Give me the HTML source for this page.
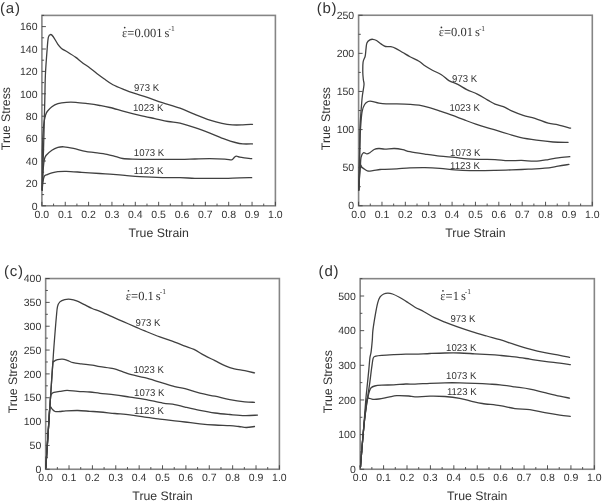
<!DOCTYPE html>
<html><head><meta charset="utf-8"><style>
html,body{margin:0;padding:0;background:#fff;}
svg{display:block;}
svg{filter:grayscale(1);}
text{font-family:"Liberation Sans",sans-serif;fill:#333333;text-rendering:geometricPrecision;}
.s{font-family:"Liberation Serif",serif;}
</style></head><body>
<svg width="602" height="502" viewBox="0 0 602 502">
<rect width="602" height="502" fill="#fff"/>
<g>

<g id="pa"><rect x="41.9" y="15.4" width="233.50" height="190.40" fill="none" stroke="#858585" stroke-width="1.6"/>
<path d="M41.90,205.8 v-4 M53.57,205.8 v-2.2 M65.25,205.8 v-4 M76.92,205.8 v-2.2 M88.60,205.8 v-4 M100.27,205.8 v-2.2 M111.95,205.8 v-4 M123.62,205.8 v-2.2 M135.30,205.8 v-4 M146.97,205.8 v-2.2 M158.65,205.8 v-4 M170.32,205.8 v-2.2 M182.00,205.8 v-4 M193.67,205.8 v-2.2 M205.35,205.8 v-4 M217.02,205.8 v-2.2 M228.70,205.8 v-4 M240.37,205.8 v-2.2 M252.05,205.8 v-4 M263.72,205.8 v-2.2 M275.40,205.8 v-4 M41.9,205.80 h4 M41.9,194.60 h2.2 M41.9,183.40 h4 M41.9,172.20 h2.2 M41.9,161.00 h4 M41.9,149.80 h2.2 M41.9,138.60 h4 M41.9,127.40 h2.2 M41.9,116.20 h4 M41.9,105.00 h2.2 M41.9,93.80 h4 M41.9,82.60 h2.2 M41.9,71.40 h4 M41.9,60.20 h2.2 M41.9,49.00 h4 M41.9,37.80 h2.2 M41.9,26.60 h4 M41.9,15.40 h2.2" stroke="#404040" stroke-width="0.9" fill="none"/>
<text x="41.90" y="218.00" font-size="10.5" text-anchor="middle">0.0</text>
<text x="65.25" y="218.00" font-size="10.5" text-anchor="middle">0.1</text>
<text x="88.60" y="218.00" font-size="10.5" text-anchor="middle">0.2</text>
<text x="111.95" y="218.00" font-size="10.5" text-anchor="middle">0.3</text>
<text x="135.30" y="218.00" font-size="10.5" text-anchor="middle">0.4</text>
<text x="158.65" y="218.00" font-size="10.5" text-anchor="middle">0.5</text>
<text x="182.00" y="218.00" font-size="10.5" text-anchor="middle">0.6</text>
<text x="205.35" y="218.00" font-size="10.5" text-anchor="middle">0.7</text>
<text x="228.70" y="218.00" font-size="10.5" text-anchor="middle">0.8</text>
<text x="252.05" y="218.00" font-size="10.5" text-anchor="middle">0.9</text>
<text x="275.40" y="218.00" font-size="10.5" text-anchor="middle">1.0</text>
<text x="37.50" y="209.50" font-size="10.5" text-anchor="end">0</text>
<text x="37.50" y="187.10" font-size="10.5" text-anchor="end">20</text>
<text x="37.50" y="164.70" font-size="10.5" text-anchor="end">40</text>
<text x="37.50" y="142.30" font-size="10.5" text-anchor="end">60</text>
<text x="37.50" y="119.90" font-size="10.5" text-anchor="end">80</text>
<text x="37.50" y="97.50" font-size="10.5" text-anchor="end">100</text>
<text x="37.50" y="75.10" font-size="10.5" text-anchor="end">120</text>
<text x="37.50" y="52.70" font-size="10.5" text-anchor="end">140</text>
<text x="37.50" y="30.30" font-size="10.5" text-anchor="end">160</text>
<text x="158.65" y="236.80" font-size="12.3" text-anchor="middle">True Strain</text>
<text transform="translate(10.4,118.6) rotate(-90)" font-size="12.3" text-anchor="middle">True Stress</text>
<text x="0" y="12.7" font-size="15" letter-spacing="0.8">(a)</text>
<path d="M42.20,190.00 C42.42,183.33 43.07,165.00 43.50,150.00 C43.93,135.00 44.48,112.55 44.80,100.00 C45.12,87.45 45.00,83.28 45.40,74.70 C45.80,66.12 46.70,54.77 47.20,48.50 C47.70,42.23 47.81,39.43 48.40,37.10 C48.99,34.77 49.97,34.60 50.75,34.50 C51.53,34.40 51.91,34.87 53.10,36.50 C54.29,38.13 56.50,42.30 57.90,44.30 C59.30,46.30 59.90,47.22 61.50,48.50 C63.10,49.78 65.12,50.52 67.50,52.00 C69.88,53.48 73.42,55.70 75.80,57.40 C78.18,59.10 79.40,60.40 81.80,62.20 C84.20,64.00 87.42,66.12 90.20,68.20 C92.98,70.28 96.20,72.95 98.50,74.70 C100.80,76.45 101.60,77.03 104.00,78.70 C106.40,80.37 109.42,82.83 112.90,84.70 C116.38,86.57 121.40,88.48 124.90,89.90 C128.40,91.32 130.17,91.95 133.90,93.20 C137.63,94.45 142.57,95.83 147.30,97.40 C152.03,98.97 156.85,100.80 162.30,102.60 C167.75,104.40 174.57,106.23 180.00,108.20 C185.43,110.17 189.92,112.42 194.90,114.40 C199.88,116.38 205.40,118.60 209.90,120.10 C214.40,121.60 218.17,122.60 221.90,123.40 C225.63,124.20 228.82,124.65 232.30,124.90 C235.78,125.15 239.43,125.00 242.80,124.90 C246.17,124.80 250.88,124.40 252.50,124.30" fill="none" stroke="#404040" stroke-width="1.3" stroke-linejoin="round" stroke-linecap="round"/>
<path d="M42.20,190.00 C42.23,183.28 42.17,160.40 42.40,149.70 C42.63,139.00 43.10,131.47 43.60,125.80 C44.10,120.13 44.80,118.08 45.40,115.70 C46.00,113.32 46.12,113.00 47.20,111.50 C48.28,110.00 50.12,108.00 51.90,106.70 C53.68,105.40 55.50,104.43 57.90,103.70 C60.30,102.97 63.32,102.53 66.30,102.30 C69.28,102.07 72.22,102.07 75.80,102.30 C79.38,102.53 83.82,103.17 87.80,103.70 C91.78,104.23 96.02,104.87 99.70,105.50 C103.38,106.13 105.70,106.48 109.90,107.50 C114.10,108.52 119.92,110.30 124.90,111.60 C129.88,112.90 134.82,114.13 139.80,115.30 C144.78,116.47 150.07,117.57 154.80,118.60 C159.53,119.63 164.00,120.75 168.20,121.50 C172.40,122.25 175.55,122.08 180.00,123.10 C184.45,124.12 189.92,125.93 194.90,127.60 C199.88,129.27 204.92,131.18 209.90,133.10 C214.88,135.02 220.57,137.53 224.80,139.10 C229.03,140.67 232.30,141.70 235.30,142.50 C238.30,143.30 239.93,143.67 242.80,143.90 C245.67,144.13 250.88,143.90 252.50,143.90" fill="none" stroke="#404040" stroke-width="1.3" stroke-linejoin="round" stroke-linecap="round"/>
<path d="M42.20,190.00 C42.33,187.00 42.67,176.95 43.00,172.00 C43.33,167.05 43.70,163.05 44.20,160.30 C44.70,157.55 44.72,157.18 46.00,155.50 C47.28,153.82 49.92,151.55 51.90,150.20 C53.88,148.85 55.90,147.97 57.90,147.40 C59.90,146.83 61.30,146.63 63.90,146.80 C66.50,146.97 69.92,147.63 73.50,148.40 C77.08,149.17 81.82,150.70 85.40,151.40 C88.98,152.10 91.40,152.10 95.00,152.60 C98.60,153.10 103.52,153.72 107.00,154.40 C110.48,155.08 113.28,156.02 115.90,156.70 C118.52,157.38 119.95,158.10 122.70,158.50 C125.45,158.90 127.05,158.95 132.40,159.10 C137.75,159.25 146.87,159.35 154.80,159.40 C162.73,159.45 173.32,159.47 180.00,159.40 C186.68,159.33 189.92,159.12 194.90,159.00 C199.88,158.88 204.92,158.68 209.90,158.70 C214.88,158.72 221.18,158.90 224.80,159.10 C228.42,159.30 230.10,160.10 231.60,159.90 C233.10,159.70 233.05,158.53 233.80,157.90 C234.55,157.27 235.10,156.22 236.10,156.10 C237.10,155.98 238.43,156.90 239.80,157.20 C241.17,157.50 242.32,157.65 244.30,157.90 C246.28,158.15 250.47,158.57 251.70,158.70" fill="none" stroke="#404040" stroke-width="1.3" stroke-linejoin="round" stroke-linecap="round"/>
<path d="M42.20,190.00 C42.30,188.83 42.47,185.27 42.80,183.00 C43.13,180.73 43.47,177.80 44.20,176.40 C44.93,175.00 45.92,175.18 47.20,174.60 C48.48,174.02 50.12,173.38 51.90,172.90 C53.68,172.42 55.50,171.95 57.90,171.70 C60.30,171.45 62.32,171.30 66.30,171.40 C70.28,171.50 76.23,171.95 81.80,172.30 C87.37,172.65 95.02,173.18 99.70,173.50 C104.38,173.82 105.70,173.88 109.90,174.20 C114.10,174.52 119.92,175.00 124.90,175.40 C129.88,175.80 133.57,176.23 139.80,176.60 C146.03,176.97 155.60,177.42 162.30,177.60 C169.00,177.78 174.57,177.58 180.00,177.70 C185.43,177.82 189.92,178.18 194.90,178.30 C199.88,178.42 204.92,178.40 209.90,178.40 C214.88,178.40 219.82,178.40 224.80,178.30 C229.78,178.20 235.32,177.90 239.80,177.80 C244.28,177.70 249.72,177.72 251.70,177.70" fill="none" stroke="#404040" stroke-width="1.3" stroke-linejoin="round" stroke-linecap="round"/>
<text class="s" x="122.10" y="36.60" font-size="12.5">ε=0.001<tspan dx="-1.1"> s</tspan><tspan font-size="7.5" dx="-1.0" dy="-5.6">-1</tspan></text>
<circle cx="124.70" cy="27.60" r="0.85" fill="#333333"/>
<text transform="translate(134.0,90.8) scale(0.96,1)" font-size="10">973 K</text>
<text transform="translate(133.0,111.1) scale(0.96,1)" font-size="10">1023 K</text>
<text transform="translate(133.8,156.0) scale(0.96,1)" font-size="10">1073 K</text>
<text transform="translate(133.8,173.9) scale(0.96,1)" font-size="10">1123 K</text></g>
<g id="pb"><rect x="358.6" y="15.25" width="233.70" height="190.50" fill="none" stroke="#858585" stroke-width="1.6"/>
<path d="M358.60,205.75 v-4 M370.29,205.75 v-2.2 M381.97,205.75 v-4 M393.66,205.75 v-2.2 M405.34,205.75 v-4 M417.02,205.75 v-2.2 M428.71,205.75 v-4 M440.39,205.75 v-2.2 M452.08,205.75 v-4 M463.76,205.75 v-2.2 M475.45,205.75 v-4 M487.13,205.75 v-2.2 M498.82,205.75 v-4 M510.50,205.75 v-2.2 M522.19,205.75 v-4 M533.88,205.75 v-2.2 M545.56,205.75 v-4 M557.24,205.75 v-2.2 M568.93,205.75 v-4 M580.62,205.75 v-2.2 M592.30,205.75 v-4 M358.6,205.75 h4 M358.6,186.70 h2.2 M358.6,167.65 h4 M358.6,148.60 h2.2 M358.6,129.55 h4 M358.6,110.50 h2.2 M358.6,91.45 h4 M358.6,72.40 h2.2 M358.6,53.35 h4 M358.6,34.30 h2.2 M358.6,15.25 h4" stroke="#404040" stroke-width="0.9" fill="none"/>
<text x="358.60" y="217.95" font-size="10.5" text-anchor="middle">0.0</text>
<text x="381.97" y="217.95" font-size="10.5" text-anchor="middle">0.1</text>
<text x="405.34" y="217.95" font-size="10.5" text-anchor="middle">0.2</text>
<text x="428.71" y="217.95" font-size="10.5" text-anchor="middle">0.3</text>
<text x="452.08" y="217.95" font-size="10.5" text-anchor="middle">0.4</text>
<text x="475.45" y="217.95" font-size="10.5" text-anchor="middle">0.5</text>
<text x="498.82" y="217.95" font-size="10.5" text-anchor="middle">0.6</text>
<text x="522.19" y="217.95" font-size="10.5" text-anchor="middle">0.7</text>
<text x="545.56" y="217.95" font-size="10.5" text-anchor="middle">0.8</text>
<text x="568.93" y="217.95" font-size="10.5" text-anchor="middle">0.9</text>
<text x="592.30" y="217.95" font-size="10.5" text-anchor="middle">1.0</text>
<text x="354.20" y="209.45" font-size="10.5" text-anchor="end">0</text>
<text x="354.20" y="171.35" font-size="10.5" text-anchor="end">50</text>
<text x="354.20" y="133.25" font-size="10.5" text-anchor="end">100</text>
<text x="354.20" y="95.15" font-size="10.5" text-anchor="end">150</text>
<text x="354.20" y="57.05" font-size="10.5" text-anchor="end">200</text>
<text x="354.20" y="18.95" font-size="10.5" text-anchor="end">250</text>
<text x="475.45" y="236.75" font-size="12.3" text-anchor="middle">True Strain</text>
<text transform="translate(329.5,118.6) rotate(-90)" font-size="12.3" text-anchor="middle">True Stress</text>
<text x="316.7" y="12.7" font-size="15" letter-spacing="0.8">(b)</text>
<path d="M358.80,190.00 C358.92,185.00 359.33,168.38 359.50,160.00 C359.67,151.62 359.72,145.07 359.80,139.70 C359.88,134.33 359.85,131.78 360.00,127.80 C360.15,123.82 360.43,119.78 360.70,115.80 C360.97,111.82 361.32,107.28 361.60,103.90 C361.88,100.52 362.00,98.68 362.40,95.50 C362.80,92.32 363.83,87.38 364.00,84.80 C364.17,82.22 363.60,82.00 363.40,80.00 C363.20,78.00 362.85,75.80 362.80,72.80 C362.75,69.80 362.70,64.78 363.10,62.00 C363.50,59.22 364.72,58.28 365.20,56.10 C365.68,53.92 365.72,51.10 366.00,48.90 C366.28,46.70 366.25,44.40 366.90,42.90 C367.55,41.40 368.90,40.50 369.90,39.90 C370.90,39.30 371.80,39.20 372.90,39.30 C374.00,39.40 375.10,39.70 376.50,40.50 C377.90,41.30 379.80,43.10 381.30,44.10 C382.80,45.10 383.92,46.07 385.50,46.50 C387.08,46.93 389.12,46.40 390.80,46.70 C392.48,47.00 393.60,47.33 395.60,48.30 C397.60,49.27 400.40,51.10 402.80,52.50 C405.20,53.90 407.30,55.25 410.00,56.70 C412.70,58.15 416.52,59.70 419.00,61.20 C421.48,62.70 422.67,64.20 424.90,65.70 C427.13,67.20 429.65,68.70 432.40,70.20 C435.15,71.70 438.65,72.97 441.40,74.70 C444.15,76.43 446.17,78.98 448.90,80.60 C451.63,82.22 454.82,82.90 457.80,84.40 C460.78,85.90 463.55,87.98 466.80,89.60 C470.05,91.22 473.82,92.35 477.30,94.10 C480.78,95.85 484.75,98.43 487.70,100.10 C490.65,101.77 492.40,103.02 495.00,104.10 C497.60,105.18 500.53,105.48 503.30,106.60 C506.07,107.72 508.28,109.35 511.60,110.80 C514.92,112.25 519.32,114.05 523.20,115.30 C527.08,116.55 530.73,116.98 534.90,118.30 C539.07,119.62 544.33,122.10 548.20,123.20 C552.07,124.30 554.37,124.07 558.10,124.90 C561.83,125.73 568.52,127.65 570.60,128.20" fill="none" stroke="#404040" stroke-width="1.3" stroke-linejoin="round" stroke-linecap="round"/>
<path d="M358.80,190.00 C358.92,185.00 359.27,169.17 359.50,160.00 C359.73,150.83 359.95,141.37 360.20,135.00 C360.45,128.63 360.67,125.78 361.00,121.80 C361.33,117.82 361.60,113.98 362.20,111.10 C362.80,108.22 363.62,106.10 364.60,104.50 C365.58,102.90 366.92,102.03 368.10,101.50 C369.28,100.97 369.90,101.03 371.70,101.30 C373.50,101.57 376.50,102.67 378.90,103.10 C381.30,103.53 383.12,103.77 386.10,103.90 C389.08,104.03 392.82,103.83 396.80,103.90 C400.78,103.97 406.30,104.08 410.00,104.30 C413.70,104.52 415.77,104.63 419.00,105.20 C422.23,105.77 425.92,106.72 429.40,107.70 C432.88,108.68 436.15,109.85 439.90,111.10 C443.65,112.35 447.92,113.77 451.90,115.20 C455.88,116.63 459.82,118.22 463.80,119.70 C467.78,121.18 471.82,122.73 475.80,124.10 C479.78,125.47 484.50,126.93 487.70,127.90 C490.90,128.87 491.57,128.88 495.00,129.90 C498.43,130.92 504.15,132.75 508.30,134.00 C512.45,135.25 515.20,136.37 519.90,137.40 C524.60,138.43 530.97,139.43 536.50,140.20 C542.03,140.97 547.83,141.65 553.10,142.00 C558.37,142.35 565.60,142.25 568.10,142.30" fill="none" stroke="#404040" stroke-width="1.3" stroke-linejoin="round" stroke-linecap="round"/>
<path d="M358.80,190.00 C358.93,187.50 359.33,179.03 359.60,175.00 C359.87,170.97 360.17,168.72 360.40,165.80 C360.63,162.88 360.50,159.68 361.00,157.50 C361.50,155.32 362.42,153.30 363.40,152.70 C364.38,152.10 365.82,153.90 366.90,153.90 C367.98,153.90 368.70,153.43 369.90,152.70 C371.10,151.97 372.60,150.20 374.10,149.50 C375.60,148.80 377.10,148.57 378.90,148.50 C380.70,148.43 382.32,149.10 384.90,149.10 C387.48,149.10 391.42,148.40 394.40,148.50 C397.38,148.60 400.20,149.17 402.80,149.70 C405.40,150.23 406.32,150.97 410.00,151.70 C413.68,152.43 419.92,153.35 424.90,154.10 C429.88,154.85 434.92,155.65 439.90,156.20 C444.88,156.75 450.32,156.95 454.80,157.40 C459.28,157.85 462.32,158.57 466.80,158.90 C471.28,159.23 477.00,159.28 481.70,159.40 C486.40,159.52 490.57,159.38 495.00,159.60 C499.43,159.82 503.87,160.57 508.30,160.70 C512.73,160.83 517.17,160.32 521.60,160.40 C526.03,160.48 530.47,161.33 534.90,161.20 C539.33,161.07 544.33,160.17 548.20,159.60 C552.07,159.03 554.50,158.30 558.10,157.80 C561.70,157.30 567.85,156.80 569.80,156.60" fill="none" stroke="#404040" stroke-width="1.3" stroke-linejoin="round" stroke-linecap="round"/>
<path d="M358.80,190.00 C358.93,187.50 359.32,179.08 359.60,175.00 C359.88,170.92 360.07,166.73 360.50,165.50 C360.93,164.27 361.45,166.93 362.20,167.60 C362.95,168.27 364.03,168.93 365.00,169.50 C365.97,170.07 366.68,170.82 368.00,171.00 C369.32,171.18 370.90,170.85 372.90,170.60 C374.90,170.35 378.00,169.70 380.00,169.50 C382.00,169.30 382.10,169.52 384.90,169.40 C387.70,169.28 392.62,169.05 396.80,168.80 C400.98,168.55 405.32,168.10 410.00,167.90 C414.68,167.70 419.92,167.53 424.90,167.60 C429.88,167.67 434.92,167.93 439.90,168.30 C444.88,168.67 449.82,169.42 454.80,169.80 C459.78,170.18 464.82,170.47 469.80,170.60 C474.78,170.73 480.50,170.63 484.70,170.60 C488.90,170.57 490.52,170.52 495.00,170.40 C499.48,170.28 506.07,170.10 511.60,169.90 C517.13,169.70 522.67,169.48 528.20,169.20 C533.73,168.92 539.82,168.70 544.80,168.20 C549.78,167.70 554.08,166.83 558.10,166.20 C562.12,165.57 567.10,164.70 568.90,164.40" fill="none" stroke="#404040" stroke-width="1.3" stroke-linejoin="round" stroke-linecap="round"/>
<text class="s" x="438.80" y="36.45" font-size="12.5">ε=0.01<tspan dx="-1.1"> s</tspan><tspan font-size="7.5" dx="-1.0" dy="-5.6">-1</tspan></text>
<circle cx="441.40" cy="27.45" r="0.85" fill="#333333"/>
<text transform="translate(452.1,82.1) scale(0.96,1)" font-size="10">973 K</text>
<text transform="translate(449.4,111.4) scale(0.96,1)" font-size="10">1023 K</text>
<text transform="translate(450.1,155.9) scale(0.96,1)" font-size="10">1073 K</text>
<text transform="translate(450.1,169.2) scale(0.96,1)" font-size="10">1123 K</text></g>
<g id="pc"><rect x="45.66" y="278.55" width="233.74" height="190.70" fill="none" stroke="#858585" stroke-width="1.6"/>
<path d="M45.66,469.25 v-4 M57.35,469.25 v-2.2 M69.03,469.25 v-4 M80.72,469.25 v-2.2 M92.41,469.25 v-4 M104.09,469.25 v-2.2 M115.78,469.25 v-4 M127.47,469.25 v-2.2 M139.16,469.25 v-4 M150.84,469.25 v-2.2 M162.53,469.25 v-4 M174.22,469.25 v-2.2 M185.90,469.25 v-4 M197.59,469.25 v-2.2 M209.28,469.25 v-4 M220.97,469.25 v-2.2 M232.65,469.25 v-4 M244.34,469.25 v-2.2 M256.03,469.25 v-4 M267.71,469.25 v-2.2 M279.40,469.25 v-4 M45.66,469.25 h4 M45.66,457.33 h2.2 M45.66,445.41 h4 M45.66,433.49 h2.2 M45.66,421.57 h4 M45.66,409.66 h2.2 M45.66,397.74 h4 M45.66,385.82 h2.2 M45.66,373.90 h4 M45.66,361.98 h2.2 M45.66,350.06 h4 M45.66,338.14 h2.2 M45.66,326.23 h4 M45.66,314.31 h2.2 M45.66,302.39 h4 M45.66,290.47 h2.2 M45.66,278.55 h4" stroke="#404040" stroke-width="0.9" fill="none"/>
<text x="45.66" y="481.45" font-size="10.5" text-anchor="middle">0.0</text>
<text x="69.03" y="481.45" font-size="10.5" text-anchor="middle">0.1</text>
<text x="92.41" y="481.45" font-size="10.5" text-anchor="middle">0.2</text>
<text x="115.78" y="481.45" font-size="10.5" text-anchor="middle">0.3</text>
<text x="139.16" y="481.45" font-size="10.5" text-anchor="middle">0.4</text>
<text x="162.53" y="481.45" font-size="10.5" text-anchor="middle">0.5</text>
<text x="185.90" y="481.45" font-size="10.5" text-anchor="middle">0.6</text>
<text x="209.28" y="481.45" font-size="10.5" text-anchor="middle">0.7</text>
<text x="232.65" y="481.45" font-size="10.5" text-anchor="middle">0.8</text>
<text x="256.03" y="481.45" font-size="10.5" text-anchor="middle">0.9</text>
<text x="279.40" y="481.45" font-size="10.5" text-anchor="middle">1.0</text>
<text x="41.26" y="472.95" font-size="10.5" text-anchor="end">0</text>
<text x="41.26" y="449.11" font-size="10.5" text-anchor="end">50</text>
<text x="41.26" y="425.27" font-size="10.5" text-anchor="end">100</text>
<text x="41.26" y="401.44" font-size="10.5" text-anchor="end">150</text>
<text x="41.26" y="377.60" font-size="10.5" text-anchor="end">200</text>
<text x="41.26" y="353.76" font-size="10.5" text-anchor="end">250</text>
<text x="41.26" y="329.93" font-size="10.5" text-anchor="end">300</text>
<text x="41.26" y="306.09" font-size="10.5" text-anchor="end">350</text>
<text x="41.26" y="282.25" font-size="10.5" text-anchor="end">400</text>
<text x="162.53" y="500.25" font-size="12.3" text-anchor="middle">True Strain</text>
<text transform="translate(16.9,381.7) rotate(-90)" font-size="12.3" text-anchor="middle">True Stress</text>
<text x="3.9" y="276.2" font-size="15" letter-spacing="0.8">(c)</text>
<path d="M45.80,468.00 C46.00,465.00 46.53,457.03 47.00,450.00 C47.47,442.97 48.13,432.82 48.60,425.80 C49.07,418.78 49.40,413.87 49.80,407.90 C50.20,401.93 50.50,397.33 51.00,390.00 C51.50,382.67 52.40,369.85 52.80,363.90 C53.20,357.95 53.22,357.08 53.40,354.30 C53.58,351.52 53.62,350.95 53.90,347.20 C54.18,343.45 54.70,336.75 55.10,331.80 C55.50,326.85 55.90,321.68 56.30,317.50 C56.70,313.32 56.90,309.30 57.50,306.70 C58.10,304.10 58.70,303.08 59.90,301.90 C61.10,300.72 62.90,300.03 64.70,299.60 C66.50,299.17 68.72,299.10 70.70,299.30 C72.68,299.50 74.42,299.97 76.60,300.80 C78.78,301.63 81.20,303.02 83.80,304.30 C86.40,305.58 89.50,307.32 92.20,308.50 C94.90,309.68 96.70,310.03 100.00,311.40 C103.30,312.77 108.02,314.95 112.00,316.70 C115.98,318.45 119.92,320.17 123.90,321.90 C127.88,323.63 132.42,325.60 135.90,327.10 C139.38,328.60 140.82,329.27 144.80,330.90 C148.78,332.53 154.82,335.03 159.80,336.90 C164.78,338.77 170.50,340.57 174.70,342.10 C178.90,343.63 181.78,344.88 185.00,346.10 C188.22,347.32 190.77,347.85 194.00,349.40 C197.23,350.95 200.92,353.53 204.40,355.40 C207.88,357.27 211.40,358.85 214.90,360.60 C218.40,362.35 222.17,364.52 225.40,365.90 C228.63,367.28 231.07,368.10 234.30,368.90 C237.53,369.70 241.43,370.03 244.80,370.70 C248.17,371.37 252.88,372.53 254.50,372.90" fill="none" stroke="#404040" stroke-width="1.3" stroke-linejoin="round" stroke-linecap="round"/>
<path d="M45.80,468.00 C46.00,465.00 46.53,457.03 47.00,450.00 C47.47,442.97 48.13,432.82 48.60,425.80 C49.07,418.78 49.40,413.87 49.80,407.90 C50.20,401.93 50.50,397.33 51.00,390.00 C51.50,382.67 52.32,368.65 52.80,363.90 C53.28,359.15 53.12,362.20 53.90,361.50 C54.68,360.80 56.10,360.10 57.50,359.70 C58.90,359.30 60.70,359.00 62.30,359.10 C63.90,359.20 65.30,359.70 67.10,360.30 C68.90,360.90 70.72,362.10 73.10,362.70 C75.48,363.30 78.22,363.50 81.40,363.90 C84.58,364.30 89.10,364.63 92.20,365.10 C95.30,365.57 96.45,366.10 100.00,366.70 C103.55,367.30 109.77,367.87 113.50,368.70 C117.23,369.53 119.42,370.70 122.40,371.70 C125.38,372.70 127.67,373.70 131.40,374.70 C135.13,375.70 140.07,376.47 144.80,377.70 C149.53,378.93 154.82,380.62 159.80,382.10 C164.78,383.58 170.50,385.50 174.70,386.60 C178.90,387.70 180.80,387.60 185.00,388.70 C189.20,389.80 194.92,391.95 199.90,393.20 C204.88,394.45 209.92,395.13 214.90,396.20 C219.88,397.27 224.82,398.67 229.80,399.60 C234.78,400.53 240.68,401.35 244.80,401.80 C248.92,402.25 252.88,402.22 254.50,402.30" fill="none" stroke="#404040" stroke-width="1.3" stroke-linejoin="round" stroke-linecap="round"/>
<path d="M45.80,468.00 C46.00,465.00 46.53,457.03 47.00,450.00 C47.47,442.97 48.13,432.82 48.60,425.80 C49.07,418.78 49.47,412.70 49.80,407.90 C50.13,403.10 50.32,399.32 50.60,397.00 C50.88,394.68 50.95,394.77 51.50,394.00 C52.05,393.23 52.50,392.83 53.90,392.40 C55.30,391.97 57.70,391.73 59.90,391.40 C62.10,391.07 64.12,390.40 67.10,390.40 C70.08,390.40 74.02,391.13 77.80,391.40 C81.58,391.67 86.10,391.68 89.80,392.00 C93.50,392.32 95.82,392.83 100.00,393.30 C104.18,393.77 109.92,394.17 114.90,394.80 C119.88,395.43 124.92,396.35 129.90,397.10 C134.88,397.85 139.32,398.30 144.80,399.30 C150.28,400.30 157.82,402.22 162.80,403.10 C167.78,403.98 171.00,403.93 174.70,404.60 C178.40,405.27 180.80,406.13 185.00,407.10 C189.20,408.07 194.92,409.42 199.90,410.40 C204.88,411.38 209.92,412.32 214.90,413.00 C219.88,413.68 224.82,414.07 229.80,414.50 C234.78,414.93 240.18,415.50 244.80,415.60 C249.42,415.70 255.38,415.18 257.50,415.10" fill="none" stroke="#404040" stroke-width="1.3" stroke-linejoin="round" stroke-linecap="round"/>
<path d="M45.80,468.00 C46.00,465.00 46.53,457.03 47.00,450.00 C47.47,442.97 48.18,432.47 48.60,425.80 C49.02,419.13 49.18,413.13 49.50,410.00 C49.82,406.87 50.05,407.15 50.50,407.00 C50.95,406.85 51.43,408.35 52.20,409.10 C52.97,409.85 53.82,411.10 55.10,411.50 C56.38,411.90 58.10,411.60 59.90,411.50 C61.70,411.40 62.92,411.07 65.90,410.90 C68.88,410.73 73.82,410.43 77.80,410.50 C81.78,410.57 86.10,411.05 89.80,411.30 C93.50,411.55 95.82,411.63 100.00,412.00 C104.18,412.37 109.92,413.02 114.90,413.50 C119.88,413.98 124.92,414.28 129.90,414.90 C134.88,415.52 139.82,416.50 144.80,417.20 C149.78,417.90 154.82,418.48 159.80,419.10 C164.78,419.72 170.50,420.42 174.70,420.90 C178.90,421.38 180.80,421.52 185.00,422.00 C189.20,422.48 194.92,423.30 199.90,423.80 C204.88,424.30 209.92,424.70 214.90,425.00 C219.88,425.30 225.82,425.35 229.80,425.60 C233.78,425.85 236.05,426.18 238.80,426.50 C241.55,426.82 243.68,427.50 246.30,427.50 C248.92,427.50 253.13,426.67 254.50,426.50" fill="none" stroke="#404040" stroke-width="1.3" stroke-linejoin="round" stroke-linecap="round"/>
<text class="s" x="125.86" y="299.75" font-size="12.5">ε=0.1<tspan dx="-1.1"> s</tspan><tspan font-size="7.5" dx="-1.0" dy="-5.6">-1</tspan></text>
<circle cx="128.46" cy="290.75" r="0.85" fill="#333333"/>
<text transform="translate(135.4,325.6) scale(0.96,1)" font-size="10">973 K</text>
<text transform="translate(133.4,373.2) scale(0.96,1)" font-size="10">1023 K</text>
<text transform="translate(134.1,396.0) scale(0.96,1)" font-size="10">1073 K</text>
<text transform="translate(134.1,413.5) scale(0.96,1)" font-size="10">1123 K</text></g>
<g id="pd"><rect x="360.16" y="278.67" width="234.19" height="190.58" fill="none" stroke="#858585" stroke-width="1.6"/>
<path d="M360.16,469.25 v-4 M371.87,469.25 v-2.2 M383.58,469.25 v-4 M395.29,469.25 v-2.2 M407.00,469.25 v-4 M418.71,469.25 v-2.2 M430.42,469.25 v-4 M442.13,469.25 v-2.2 M453.84,469.25 v-4 M465.55,469.25 v-2.2 M477.25,469.25 v-4 M488.96,469.25 v-2.2 M500.67,469.25 v-4 M512.38,469.25 v-2.2 M524.09,469.25 v-4 M535.80,469.25 v-2.2 M547.51,469.25 v-4 M559.22,469.25 v-2.2 M570.93,469.25 v-4 M582.64,469.25 v-2.2 M594.35,469.25 v-4 M360.16,469.25 h4 M360.16,451.92 h2.2 M360.16,434.60 h4 M360.16,417.27 h2.2 M360.16,399.95 h4 M360.16,382.62 h2.2 M360.16,365.30 h4 M360.16,347.97 h2.2 M360.16,330.65 h4 M360.16,313.32 h2.2 M360.16,296.00 h4 M360.16,278.67 h2.2" stroke="#404040" stroke-width="0.9" fill="none"/>
<text x="360.16" y="481.45" font-size="10.5" text-anchor="middle">0.0</text>
<text x="383.58" y="481.45" font-size="10.5" text-anchor="middle">0.1</text>
<text x="407.00" y="481.45" font-size="10.5" text-anchor="middle">0.2</text>
<text x="430.42" y="481.45" font-size="10.5" text-anchor="middle">0.3</text>
<text x="453.84" y="481.45" font-size="10.5" text-anchor="middle">0.4</text>
<text x="477.25" y="481.45" font-size="10.5" text-anchor="middle">0.5</text>
<text x="500.67" y="481.45" font-size="10.5" text-anchor="middle">0.6</text>
<text x="524.09" y="481.45" font-size="10.5" text-anchor="middle">0.7</text>
<text x="547.51" y="481.45" font-size="10.5" text-anchor="middle">0.8</text>
<text x="570.93" y="481.45" font-size="10.5" text-anchor="middle">0.9</text>
<text x="594.35" y="481.45" font-size="10.5" text-anchor="middle">1.0</text>
<text x="355.76" y="472.95" font-size="10.5" text-anchor="end">0</text>
<text x="355.76" y="438.30" font-size="10.5" text-anchor="end">100</text>
<text x="355.76" y="403.65" font-size="10.5" text-anchor="end">200</text>
<text x="355.76" y="369.00" font-size="10.5" text-anchor="end">300</text>
<text x="355.76" y="334.35" font-size="10.5" text-anchor="end">400</text>
<text x="355.76" y="299.70" font-size="10.5" text-anchor="end">500</text>
<text x="477.25" y="500.25" font-size="12.3" text-anchor="middle">True Strain</text>
<text transform="translate(331.7,381.7) rotate(-90)" font-size="12.3" text-anchor="middle">True Stress</text>
<text x="318.6" y="276.3" font-size="15" letter-spacing="0.8">(d)</text>
<path d="M360.50,467.00 C360.72,464.17 361.30,456.17 361.80,450.00 C362.30,443.83 362.83,438.38 363.50,430.00 C364.17,421.62 365.22,406.73 365.80,399.70 C366.38,392.67 366.50,392.77 367.00,387.80 C367.50,382.83 368.32,374.88 368.80,369.90 C369.28,364.92 369.52,360.90 369.90,357.90 C370.28,354.90 370.70,354.88 371.10,351.90 C371.50,348.92 372.00,343.58 372.30,340.00 C372.60,336.42 372.40,334.58 372.90,330.40 C373.40,326.22 374.50,319.48 375.30,314.90 C376.10,310.32 376.90,305.90 377.70,302.90 C378.50,299.90 379.10,298.38 380.10,296.90 C381.10,295.42 382.40,294.63 383.70,294.00 C385.00,293.37 386.42,293.10 387.90,293.10 C389.38,293.10 390.62,293.27 392.60,294.00 C394.58,294.73 397.20,296.05 399.80,297.50 C402.40,298.95 405.67,301.08 408.20,302.70 C410.73,304.32 412.37,305.70 415.00,307.20 C417.63,308.70 420.77,309.95 424.00,311.70 C427.23,313.45 430.92,315.97 434.40,317.70 C437.88,319.43 441.15,320.62 444.90,322.10 C448.65,323.58 452.42,325.02 456.90,326.60 C461.38,328.18 466.83,330.03 471.80,331.60 C476.77,333.17 482.00,334.65 486.70,336.00 C491.40,337.35 495.30,338.27 500.00,339.70 C504.70,341.13 509.92,343.03 514.90,344.60 C519.88,346.17 524.92,347.75 529.90,349.10 C534.88,350.45 539.82,351.65 544.80,352.70 C549.78,353.75 555.68,354.62 559.80,355.40 C563.92,356.18 567.88,357.07 569.50,357.40" fill="none" stroke="#404040" stroke-width="1.3" stroke-linejoin="round" stroke-linecap="round"/>
<path d="M360.50,467.00 C360.72,464.17 361.22,457.00 361.80,450.00 C362.38,443.00 363.22,432.50 364.00,425.00 C364.78,417.50 365.90,409.62 366.50,405.00 C367.10,400.38 367.03,401.17 367.60,397.30 C368.17,393.43 369.22,386.77 369.90,381.80 C370.58,376.83 371.13,371.48 371.70,367.50 C372.27,363.52 372.60,359.80 373.30,357.90 C374.00,356.00 374.47,356.53 375.90,356.10 C377.33,355.67 378.92,355.55 381.90,355.30 C384.88,355.05 389.82,354.80 393.80,354.60 C397.78,354.40 402.27,354.17 405.80,354.10 C409.33,354.03 410.98,354.30 415.00,354.20 C419.02,354.10 424.92,353.70 429.90,353.50 C434.88,353.30 439.92,353.08 444.90,353.00 C449.88,352.92 454.82,352.87 459.80,353.00 C464.78,353.13 469.82,353.53 474.80,353.80 C479.78,354.07 485.50,354.33 489.70,354.60 C493.90,354.87 495.80,355.02 500.00,355.40 C504.20,355.78 509.92,356.28 514.90,356.90 C519.88,357.52 524.92,358.35 529.90,359.10 C534.88,359.85 539.82,360.72 544.80,361.40 C549.78,362.08 555.55,362.65 559.80,363.20 C564.05,363.75 568.55,364.45 570.30,364.70" fill="none" stroke="#404040" stroke-width="1.3" stroke-linejoin="round" stroke-linecap="round"/>
<path d="M360.50,467.00 C360.72,464.17 361.13,457.83 361.80,450.00 C362.47,442.17 363.72,427.50 364.50,420.00 C365.28,412.50 365.92,408.83 366.50,405.00 C367.08,401.17 367.52,399.27 368.00,397.00 C368.48,394.73 368.88,392.93 369.40,391.40 C369.92,389.87 370.22,388.70 371.10,387.80 C371.98,386.90 372.90,386.43 374.70,386.00 C376.50,385.57 378.72,385.40 381.90,385.20 C385.08,385.00 389.82,385.00 393.80,384.80 C397.78,384.60 402.27,384.12 405.80,384.00 C409.33,383.88 410.98,384.22 415.00,384.10 C419.02,383.98 424.92,383.52 429.90,383.30 C434.88,383.08 439.92,382.88 444.90,382.80 C449.88,382.72 454.82,382.72 459.80,382.80 C464.78,382.88 469.82,383.08 474.80,383.30 C479.78,383.52 485.50,383.83 489.70,384.10 C493.90,384.37 495.80,384.43 500.00,384.90 C504.20,385.37 509.92,386.20 514.90,386.90 C519.88,387.60 524.92,388.13 529.90,389.10 C534.88,390.07 539.82,391.52 544.80,392.70 C549.78,393.88 555.68,395.30 559.80,396.20 C563.92,397.10 567.88,397.78 569.50,398.10" fill="none" stroke="#404040" stroke-width="1.3" stroke-linejoin="round" stroke-linecap="round"/>
<path d="M360.50,467.00 C360.72,464.17 361.13,457.83 361.80,450.00 C362.47,442.17 363.65,428.40 364.50,420.00 C365.35,411.60 366.10,403.20 366.90,399.60 C367.70,396.00 368.30,398.45 369.30,398.40 C370.30,398.35 371.30,399.20 372.90,399.30 C374.50,399.40 376.30,399.35 378.90,399.00 C381.50,398.65 385.52,397.75 388.50,397.20 C391.48,396.65 393.42,395.90 396.80,395.70 C400.18,395.50 405.77,395.82 408.80,396.00 C411.83,396.18 411.48,396.77 415.00,396.80 C418.52,396.83 424.92,396.25 429.90,396.20 C434.88,396.15 439.92,396.15 444.90,396.50 C449.88,396.85 455.32,397.50 459.80,398.30 C464.28,399.10 468.05,400.43 471.80,401.30 C475.55,402.17 477.60,402.78 482.30,403.50 C487.00,404.22 494.57,404.75 500.00,405.60 C505.43,406.45 509.92,407.93 514.90,408.60 C519.88,409.27 524.92,408.93 529.90,409.60 C534.88,410.27 539.82,411.68 544.80,412.60 C549.78,413.52 555.55,414.48 559.80,415.10 C564.05,415.72 568.55,416.10 570.30,416.30" fill="none" stroke="#404040" stroke-width="1.3" stroke-linejoin="round" stroke-linecap="round"/>
<text class="s" x="440.36" y="299.87" font-size="12.5">ε=1<tspan dx="-1.1"> s</tspan><tspan font-size="7.5" dx="-1.0" dy="-5.6">-1</tspan></text>
<circle cx="442.96" cy="290.87" r="0.85" fill="#333333"/>
<text transform="translate(450.4,322.1) scale(0.96,1)" font-size="10">973 K</text>
<text transform="translate(446.1,351.2) scale(0.96,1)" font-size="10">1023 K</text>
<text transform="translate(446.1,379.3) scale(0.96,1)" font-size="10">1073 K</text>
<text transform="translate(446.9,394.6) scale(0.96,1)" font-size="10">1123 K</text></g>
</g></svg></body></html>
